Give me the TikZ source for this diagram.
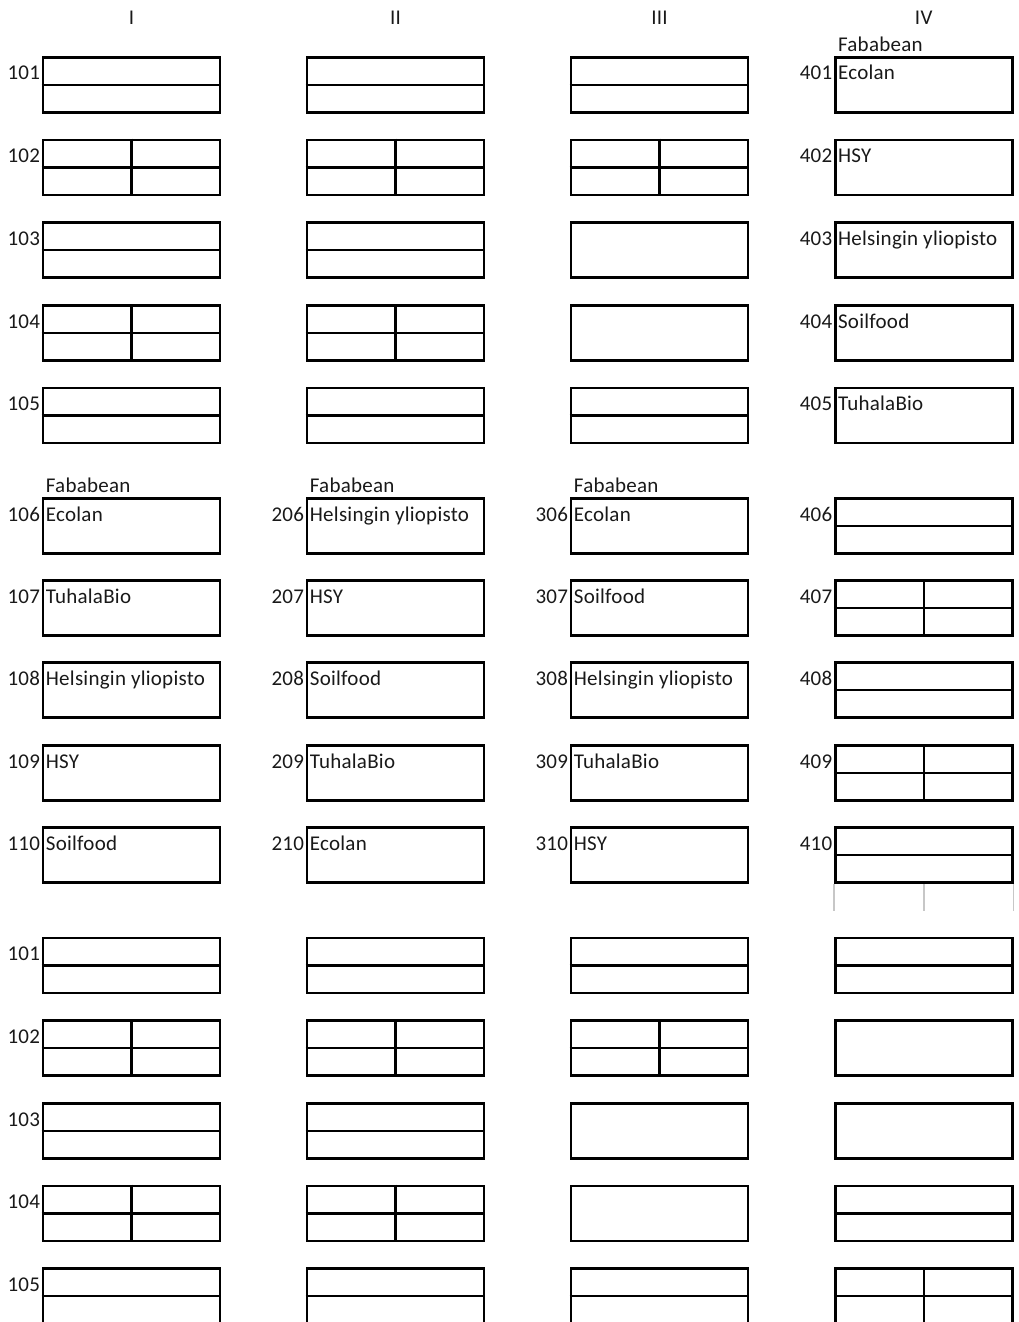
\documentclass[tikz,border=0pt]{standalone}
\usepackage{fontspec}
\setmainfont[LetterSpace=1.2]{Carlito}
\begin{document}
\begin{tikzpicture}[x=1pt,y=-1pt,
  cellbox/.style={draw=black,line width=2.6pt,minimum width=177pt,minimum height=55pt,inner sep=0pt},
  divider/.style={draw=black,line width=2.4pt},
  faint/.style={draw=black!22,line width=1.6pt},
  numlabel/.style={anchor=base east,inner sep=0pt,text=black!90},
  celltext/.style={anchor=base west,inner sep=0pt,text=black!90},
  header/.style={anchor=base,inner sep=0pt,text=black!90},
  font=\fontsize{21}{25}\selectfont]
\useasboundingbox (0,0) rectangle (1018,1322);
\clip (0,0) rectangle (1018,1322);
\newcommand\mkH[1]{\draw[divider] (#1.west) -- (#1.east);}
\newcommand\mkV[1]{\draw[divider] (#1.north) -- (#1.south);}
\newcommand\numlbl[2]{\node[numlabel] (#1n) at ([xshift=-1.5pt,yshift=-24pt]#1.north west) {#2};}
\newcommand\celltxt[2]{\node[celltext] (#1t) at ([xshift=4pt,yshift=-24pt]#1.north west) {#2};}
\newcommand\fabalbl[1]{\node[celltext] (#1f) at ([xshift=4pt,yshift=4.5pt]#1.north west) {Fababean};}

% column headers
\node[header] (hI) at (131.5,25) {I};
\node[header] (hII) at (395.5,25) {II};
\node[header] (hIII) at (659.5,25) {III};
\node[header] (hIV) at (923.7,25) {IV};

% ---------- section 1 ----------
\foreach \n/\y in {1/84.8,2/167.5,3/250.2,4/332.9,5/415.6}{
  \node[cellbox] (a\n) at (131.5,\y) {};
  \node[cellbox] (b\n) at (395.5,\y) {};
  \node[cellbox] (c\n) at (659.5,\y) {};
  \node[cellbox] (d\n) at (923.7,\y) {};
}
\numlbl{a1}{101}\numlbl{a2}{102}\numlbl{a3}{103}\numlbl{a4}{104}\numlbl{a5}{105}
\mkH{a1}\mkH{a2}\mkV{a2}\mkH{a3}\mkH{a4}\mkV{a4}\mkH{a5}
\mkH{b1}\mkH{b2}\mkV{b2}\mkH{b3}\mkH{b4}\mkV{b4}\mkH{b5}
\mkH{c1}\mkH{c2}\mkV{c2}\mkH{c5}
\fabalbl{d1}
\numlbl{d1}{401}\numlbl{d2}{402}\numlbl{d3}{403}\numlbl{d4}{404}\numlbl{d5}{405}
\celltxt{d1}{Ecolan}\celltxt{d2}{HSY}\celltxt{d3}{Helsingin yliopisto}\celltxt{d4}{Soilfood}\celltxt{d5}{TuhalaBio}

% ---------- section 2 ----------
\foreach \n/\y in {1/525.8,2/608.2,3/690.2,4/773.2,5/855.2}{
  \node[cellbox] (e\n) at (131.5,\y) {};
  \node[cellbox] (f\n) at (395.5,\y) {};
  \node[cellbox] (g\n) at (659.5,\y) {};
  \node[cellbox] (h\n) at (923.7,\y) {};
}
\fabalbl{e1}\fabalbl{f1}\fabalbl{g1}
\numlbl{e1}{106}\numlbl{e2}{107}\numlbl{e3}{108}\numlbl{e4}{109}\numlbl{e5}{110}
\celltxt{e1}{Ecolan}\celltxt{e2}{TuhalaBio}\celltxt{e3}{Helsingin yliopisto}\celltxt{e4}{HSY}\celltxt{e5}{Soilfood}
\numlbl{f1}{206}\numlbl{f2}{207}\numlbl{f3}{208}\numlbl{f4}{209}\numlbl{f5}{210}
\celltxt{f1}{Helsingin yliopisto}\celltxt{f2}{HSY}\celltxt{f3}{Soilfood}\celltxt{f4}{TuhalaBio}\celltxt{f5}{Ecolan}
\numlbl{g1}{306}\numlbl{g2}{307}\numlbl{g3}{308}\numlbl{g4}{309}\numlbl{g5}{310}
\celltxt{g1}{Ecolan}\celltxt{g2}{Soilfood}\celltxt{g3}{Helsingin yliopisto}\celltxt{g4}{TuhalaBio}\celltxt{g5}{HSY}
\numlbl{h1}{406}\numlbl{h2}{407}\numlbl{h3}{408}\numlbl{h4}{409}\numlbl{h5}{410}
\mkH{h1}\mkH{h2}\mkV{h2}\mkH{h3}\mkH{h4}\mkV{h4}\mkH{h5}
% faint grid lines below 410
\coordinate (q1) at ([yshift=-27pt]h5.south west);
\coordinate (q2) at ([yshift=-27pt]h5.south);
\coordinate (q3) at ([yshift=-27pt]h5.south east);
\draw[faint] (h5.south west) -- (q1);
\draw[faint] (h5.south) -- (q2);
\draw[faint] (h5.south east) -- (q3);

% ---------- section 3 ----------
\foreach \n/\y in {1/965.5,2/1048.2,3/1130.8,4/1213.5,5/1296.2}{
  \node[cellbox] (i\n) at (131.5,\y) {};
  \node[cellbox] (j\n) at (395.5,\y) {};
  \node[cellbox] (k\n) at (659.5,\y) {};
  \node[cellbox] (l\n) at (923.7,\y) {};
}
\numlbl{i1}{101}\numlbl{i2}{102}\numlbl{i3}{103}\numlbl{i4}{104}\numlbl{i5}{105}
\mkH{i1}\mkH{i2}\mkV{i2}\mkH{i3}\mkH{i4}\mkV{i4}\mkH{i5}
\mkH{j1}\mkH{j2}\mkV{j2}\mkH{j3}\mkH{j4}\mkV{j4}\mkH{j5}
\mkH{k1}\mkH{k2}\mkV{k2}\mkH{k5}
\mkH{l1}\mkH{l4}\mkH{l5}\mkV{l5}
\end{tikzpicture}
\end{document}
